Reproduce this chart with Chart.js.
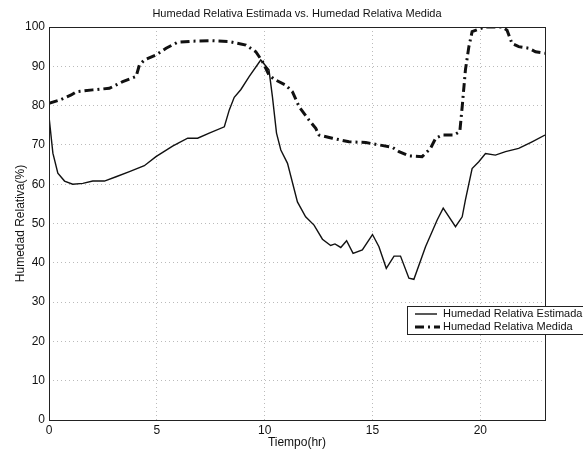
<!DOCTYPE html>
<html>
<head>
<meta charset="utf-8">
<script src="https://cdn.jsdelivr.net/npm/chart.js@4/dist/chart.umd.min.js"></script>
<style>
  html, body { margin: 0; padding: 0; background: #fff; }
  #chart { display: block; }
</style>
</head>
<body>
<canvas id="chart" width="583" height="452"></canvas>
<script>
// ── Data ──
const estX = [0, 0.18, 0.41, 0.72, 1.1, 1.57, 2.03, 2.57, 3.11, 3.73, 4.42, 4.96, 5.73, 6.43, 6.89, 7.43, 8.13, 8.36, 8.59, 8.9, 9.28, 9.82, 10.2, 10.36, 10.55, 10.75, 11.06, 11.52, 11.9, 12.29, 12.68, 13.06, 13.26, 13.53, 13.8, 14.1, 14.53, 15.0, 15.3, 15.64, 16.0, 16.3, 16.69, 16.92, 17.46, 18.0, 18.28, 18.85, 19.16, 19.31, 19.62, 19.93, 20.24, 20.7, 21.17, 21.78, 22.4, 23];
const estY = [77.2, 67.9, 62.8, 60.8, 60.0, 60.2, 60.8, 60.8, 61.9, 63.2, 64.7, 67.0, 69.7, 71.7, 71.7, 73.0, 74.6, 78.9, 82.1, 84.1, 87.4, 91.6, 89.1, 82.3, 73.0, 68.7, 65.3, 55.5, 51.7, 49.6, 46.0, 44.4, 44.8, 43.9, 45.6, 42.4, 43.3, 47.2, 44.1, 38.6, 41.7, 41.7, 36.1, 35.8, 44.1, 50.9, 53.9, 49.2, 51.7, 56.0, 64.0, 65.7, 67.8, 67.4, 68.3, 69.1, 70.8, 72.5];

const medX = [0, 0.49, 1.03, 1.26, 2.03, 2.8, 3.42, 4.04, 4.19, 4.42, 4.96, 5.43, 5.96, 6.66, 7.58, 8.36, 9.13, 9.59, 9.9, 10.2, 10.44, 10.98, 11.29, 11.6, 12.06, 12.37, 12.52, 13.14, 13.91, 14.69, 15.3, 15.92, 16.23, 16.69, 17.3, 17.69, 17.93, 18.23, 18.77, 19.05, 19.16, 19.31, 19.47, 19.62, 20.0, 20.24, 21.0, 21.24, 21.47, 21.78, 22.25, 22.56, 23];
const medY = [80.6, 81.4, 82.7, 83.5, 84.0, 84.4, 86.1, 87.4, 90.3, 91.6, 92.9, 94.6, 96.1, 96.4, 96.5, 96.3, 95.4, 93.7, 91.2, 87.8, 86.7, 85.2, 83.5, 79.7, 76.3, 74.2, 72.5, 71.7, 70.8, 70.6, 70.0, 69.4, 68.3, 67.2, 67.0, 69.1, 71.7, 72.5, 72.5, 73.4, 79.7, 89.1, 95.0, 98.8, 99.6, 100, 100, 99.2, 95.8, 95.0, 94.6, 93.7, 93.3];

const seriesNames = ['Humedad Relativa Estimada', 'Humedad Relativa Medida'];
const chartTitle = 'Humedad Relativa Estimada vs. Humedad Relativa Medida';
const xTicks = [0, 5, 10, 15, 20];
const yTicks = [0, 10, 20, 30, 40, 50, 60, 70, 80, 90, 100];

const FONT = 'Liberation Sans, Arial, Helvetica, sans-serif';
const MED_DASH = [9, 4, 2, 4];

const toPoints = (xs, ys) => xs.map((x, i) => ({ x, y: ys[i] }));

// ── Box around plot area + title centred over the plot ──
const frame = {
  id: 'frame',
  afterDatasetsDraw(chart) {
    const { ctx, chartArea: a } = chart;
    ctx.save();
    ctx.strokeStyle = '#222';
    ctx.lineWidth = 1;
    ctx.strokeRect(a.left + 0.5, a.top + 0.5, a.right - a.left, a.bottom - a.top);

    ctx.fillStyle = '#111';
    ctx.font = '11px ' + FONT;
    ctx.textAlign = 'center';
    ctx.textBaseline = 'middle';
    ctx.fillText(chartTitle, (a.left + a.right) / 2, 14);
    ctx.restore();
  },
};

// ── Legend box overlapping the plot ──
const legendBox = {
  id: 'legendBox',
  afterDraw(chart) {
    const ctx = chart.ctx;
    const x = 407, y = 306, w = 180, h = 28;
    ctx.save();
    ctx.fillStyle = '#fff';
    ctx.fillRect(x, y, w, h);
    ctx.strokeStyle = '#222';
    ctx.lineWidth = 1;
    ctx.strokeRect(x + 0.5, y + 0.5, w, h);

    ctx.strokeStyle = '#111';
    ctx.lineWidth = 1.4;
    ctx.beginPath();
    ctx.moveTo(415, y + 8);
    ctx.lineTo(437, y + 8);
    ctx.stroke();

    ctx.lineWidth = 3;
    ctx.setLineDash(MED_DASH);
    ctx.beginPath();
    ctx.moveTo(415, y + 21);
    ctx.lineTo(440, y + 21);
    ctx.stroke();
    ctx.setLineDash([]);

    ctx.fillStyle = '#111';
    ctx.font = '11px ' + FONT;
    ctx.textBaseline = 'middle';
    ctx.fillText(seriesNames[0], 443, y + 8);
    ctx.fillText(seriesNames[1], 443, y + 21);
    ctx.restore();
  },
};

new Chart(document.getElementById('chart'), {
  type: 'scatter',
  data: {
    datasets: [
      {
        label: seriesNames[0],
        data: toPoints(estX, estY),
        showLine: true,
        borderColor: '#111',
        borderWidth: 1.4,
        pointRadius: 0,
        tension: 0,
      },
      {
        label: seriesNames[1],
        data: toPoints(medX, medY),
        showLine: true,
        borderColor: '#111',
        borderWidth: 3,
        borderDash: MED_DASH,
        pointRadius: 0,
        tension: 0,
      },
    ],
  },
  options: {
    responsive: false,
    animation: false,
    layout: { padding: { top: 27, right: 38, bottom: 0, left: 0 } },
    plugins: {
      legend: { display: false },
      tooltip: { enabled: false },
      title: { display: false },
    },
    scales: {
      x: {
        type: 'linear',
        min: 0,
        max: 23,
        afterBuildTicks(scale) { scale.ticks = xTicks.map(v => ({ value: v })); },
        afterFit(scale) { scale.height = 32; },
        grid: { color: '#bbb', drawTicks: false },
        border: { display: false, dash: [1, 3] },
        ticks: {
          color: '#111',
          padding: 3,
          font: { family: FONT, size: 12 },
        },
        title: {
          display: true,
          text: 'Tiempo(hr)',
          color: '#111',
          font: { family: FONT, size: 12 },
          padding: { top: 0, bottom: 2 },
        },
      },
      y: {
        min: 0,
        max: 100,
        afterBuildTicks(scale) { scale.ticks = yTicks.map(v => ({ value: v })); },
        afterFit(scale) { scale.width = 49; },
        grid: { color: '#bbb', drawTicks: false },
        border: { display: false, dash: [1, 3] },
        ticks: {
          color: '#111',
          padding: 4,
          font: { family: FONT, size: 12 },
        },
        title: {
          display: true,
          text: 'Humedad Relativa(%)',
          color: '#111',
          font: { family: FONT, size: 12 },
          padding: { top: 13, bottom: 0 },
        },
      },
    },
  },
  plugins: [frame, legendBox],
});
</script>
</body>
</html>
